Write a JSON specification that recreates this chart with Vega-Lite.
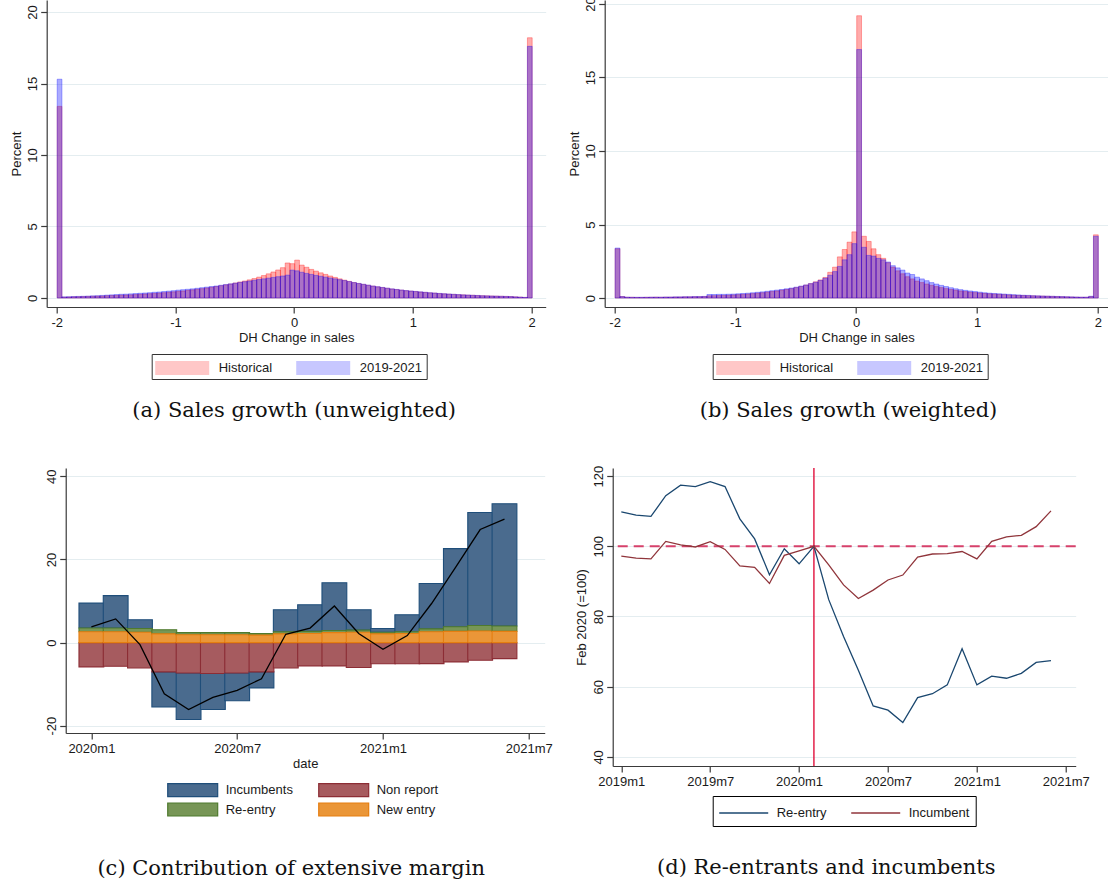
{
  "$schema": "https://vega.github.io/schema/vega-lite/v6.json",
  "background": "white",
  "padding": {"left": 10.5, "top": -4, "right": 0, "bottom": 0},
  "config": {
    "font": "Liberation Sans",
    "view": {"stroke": null},
    "axis": {
      "domainColor": "#3a3a3a", "tickColor": "#3a3a3a", "labelColor": "#1a1a1a", "titleColor": "#1a1a1a",
      "labelFont": "Liberation Sans", "titleFont": "Liberation Sans",
      "labelFontSize": 13, "titleFontSize": 13, "titleFontWeight": "normal",
      "gridColor": "#e4edf0", "tickSize": 6, "domainWidth": 1.2, "tickWidth": 1.2
    },
    "axisX": {"grid": false, "labelPadding": 3, "titlePadding": 2, "labelFlush": false},
    "axisY": {"labelAngle": -90, "labelAlign": "center", "labelBaseline": "alphabetic", "labelPadding": 4, "grid": true},
    "legend": {"labelFont": "Liberation Sans", "labelFontSize": 13, "labelColor": "#1a1a1a", "title": null},
    "title": {"font": "DejaVu Serif", "fontSize": 21, "fontWeight": "normal", "color": "#111111"},
    "bar": {"binSpacing": 0}
  },
  "datasets": {
    "hist_a": [
      {"lo": -2, "h": 13.4, "n": 15.3}, {"lo": -1.96, "h": 0.06, "n": 0.08}, {"lo": -1.92, "h": 0.07, "n": 0.09},
      {"lo": -1.88, "h": 0.08, "n": 0.1}, {"lo": -1.84, "h": 0.09, "n": 0.11}, {"lo": -1.8, "h": 0.1, "n": 0.12},
      {"lo": -1.76, "h": 0.11, "n": 0.13}, {"lo": -1.72, "h": 0.12, "n": 0.15}, {"lo": -1.68, "h": 0.13, "n": 0.16},
      {"lo": -1.64, "h": 0.14, "n": 0.18}, {"lo": -1.6, "h": 0.16, "n": 0.2}, {"lo": -1.56, "h": 0.17, "n": 0.22},
      {"lo": -1.52, "h": 0.18, "n": 0.24}, {"lo": -1.48, "h": 0.2, "n": 0.26}, {"lo": -1.44, "h": 0.21, "n": 0.27},
      {"lo": -1.4, "h": 0.22, "n": 0.29}, {"lo": -1.36, "h": 0.24, "n": 0.31}, {"lo": -1.32, "h": 0.26, "n": 0.33},
      {"lo": -1.28, "h": 0.28, "n": 0.35}, {"lo": -1.24, "h": 0.3, "n": 0.37}, {"lo": -1.2, "h": 0.32, "n": 0.4},
      {"lo": -1.16, "h": 0.34, "n": 0.42}, {"lo": -1.12, "h": 0.37, "n": 0.45}, {"lo": -1.08, "h": 0.4, "n": 0.48},
      {"lo": -1.04, "h": 0.43, "n": 0.51}, {"lo": -1, "h": 0.46, "n": 0.55}, {"lo": -0.96, "h": 0.49, "n": 0.58},
      {"lo": -0.92, "h": 0.53, "n": 0.61}, {"lo": -0.88, "h": 0.57, "n": 0.64}, {"lo": -0.84, "h": 0.61, "n": 0.68},
      {"lo": -0.8, "h": 0.65, "n": 0.72}, {"lo": -0.76, "h": 0.7, "n": 0.76}, {"lo": -0.72, "h": 0.75, "n": 0.8},
      {"lo": -0.68, "h": 0.8, "n": 0.84}, {"lo": -0.64, "h": 0.86, "n": 0.89}, {"lo": -0.6, "h": 0.92, "n": 0.94},
      {"lo": -0.56, "h": 0.98, "n": 0.99}, {"lo": -0.52, "h": 1.05, "n": 1.04}, {"lo": -0.48, "h": 1.12, "n": 1.09},
      {"lo": -0.44, "h": 1.19, "n": 1.14}, {"lo": -0.4, "h": 1.27, "n": 1.19}, {"lo": -0.36, "h": 1.36, "n": 1.24},
      {"lo": -0.32, "h": 1.46, "n": 1.29}, {"lo": -0.28, "h": 1.57, "n": 1.34}, {"lo": -0.24, "h": 1.69, "n": 1.39},
      {"lo": -0.2, "h": 1.82, "n": 1.44}, {"lo": -0.16, "h": 1.96, "n": 1.49}, {"lo": -0.12, "h": 2.12, "n": 1.54},
      {"lo": -0.08, "h": 2.45, "n": 1.6}, {"lo": -0.04, "h": 2.4, "n": 1.95},
      {"lo": 0, "h": 2.65, "n": 1.9}, {"lo": 0.04, "h": 2.3, "n": 1.8}, {"lo": 0.08, "h": 2.15, "n": 1.72},
      {"lo": 0.12, "h": 2.0, "n": 1.65}, {"lo": 0.16, "h": 1.88, "n": 1.58}, {"lo": 0.2, "h": 1.76, "n": 1.52},
      {"lo": 0.24, "h": 1.65, "n": 1.46}, {"lo": 0.28, "h": 1.54, "n": 1.4}, {"lo": 0.32, "h": 1.44, "n": 1.34},
      {"lo": 0.36, "h": 1.34, "n": 1.28}, {"lo": 0.4, "h": 1.25, "n": 1.22}, {"lo": 0.44, "h": 1.16, "n": 1.15},
      {"lo": 0.48, "h": 1.08, "n": 1.08}, {"lo": 0.52, "h": 1.01, "n": 1.02}, {"lo": 0.56, "h": 0.95, "n": 0.96},
      {"lo": 0.6, "h": 0.89, "n": 0.9}, {"lo": 0.64, "h": 0.83, "n": 0.84}, {"lo": 0.68, "h": 0.78, "n": 0.79},
      {"lo": 0.72, "h": 0.73, "n": 0.74}, {"lo": 0.76, "h": 0.68, "n": 0.69}, {"lo": 0.8, "h": 0.63, "n": 0.64},
      {"lo": 0.84, "h": 0.59, "n": 0.6}, {"lo": 0.88, "h": 0.55, "n": 0.56}, {"lo": 0.92, "h": 0.51, "n": 0.52},
      {"lo": 0.96, "h": 0.48, "n": 0.49}, {"lo": 1, "h": 0.45, "n": 0.46}, {"lo": 1.04, "h": 0.42, "n": 0.43},
      {"lo": 1.08, "h": 0.39, "n": 0.4}, {"lo": 1.12, "h": 0.36, "n": 0.37}, {"lo": 1.16, "h": 0.34, "n": 0.35},
      {"lo": 1.2, "h": 0.31, "n": 0.32}, {"lo": 1.24, "h": 0.29, "n": 0.3}, {"lo": 1.28, "h": 0.27, "n": 0.28},
      {"lo": 1.32, "h": 0.25, "n": 0.26}, {"lo": 1.36, "h": 0.23, "n": 0.24}, {"lo": 1.4, "h": 0.22, "n": 0.22},
      {"lo": 1.44, "h": 0.2, "n": 0.21}, {"lo": 1.48, "h": 0.19, "n": 0.19}, {"lo": 1.52, "h": 0.17, "n": 0.18},
      {"lo": 1.56, "h": 0.16, "n": 0.16}, {"lo": 1.6, "h": 0.15, "n": 0.15}, {"lo": 1.64, "h": 0.14, "n": 0.14},
      {"lo": 1.68, "h": 0.13, "n": 0.13}, {"lo": 1.72, "h": 0.12, "n": 0.12}, {"lo": 1.76, "h": 0.11, "n": 0.11},
      {"lo": 1.8, "h": 0.1, "n": 0.1}, {"lo": 1.84, "h": 0.08, "n": 0.08}, {"lo": 1.88, "h": 0.06, "n": 0.06},
      {"lo": 1.92, "h": 0.04, "n": 0.04}, {"lo": 1.96, "h": 18.2, "n": 17.6}
    ],
    "hist_b": [
      {"lo": -2, "h": 3.35, "n": 3.4}, {"lo": -1.96, "h": 0.1, "n": 0.1}, {"lo": -1.92, "h": 0.05, "n": 0.06},
      {"lo": -1.88, "h": 0.05, "n": 0.05}, {"lo": -1.84, "h": 0.04, "n": 0.05}, {"lo": -1.8, "h": 0.04, "n": 0.05},
      {"lo": -1.76, "h": 0.05, "n": 0.05}, {"lo": -1.72, "h": 0.05, "n": 0.06}, {"lo": -1.68, "h": 0.06, "n": 0.06},
      {"lo": -1.64, "h": 0.05, "n": 0.06}, {"lo": -1.6, "h": 0.06, "n": 0.07}, {"lo": -1.56, "h": 0.06, "n": 0.07},
      {"lo": -1.52, "h": 0.07, "n": 0.08}, {"lo": -1.48, "h": 0.07, "n": 0.08}, {"lo": -1.44, "h": 0.08, "n": 0.09},
      {"lo": -1.4, "h": 0.08, "n": 0.09}, {"lo": -1.36, "h": 0.09, "n": 0.1}, {"lo": -1.32, "h": 0.09, "n": 0.1},
      {"lo": -1.28, "h": 0.1, "n": 0.11}, {"lo": -1.24, "h": 0.15, "n": 0.24}, {"lo": -1.2, "h": 0.16, "n": 0.24},
      {"lo": -1.16, "h": 0.17, "n": 0.25}, {"lo": -1.12, "h": 0.18, "n": 0.25}, {"lo": -1.08, "h": 0.19, "n": 0.26},
      {"lo": -1.04, "h": 0.21, "n": 0.27}, {"lo": -1, "h": 0.23, "n": 0.29}, {"lo": -0.96, "h": 0.25, "n": 0.31},
      {"lo": -0.92, "h": 0.27, "n": 0.33}, {"lo": -0.88, "h": 0.3, "n": 0.36}, {"lo": -0.84, "h": 0.33, "n": 0.39},
      {"lo": -0.8, "h": 0.36, "n": 0.42}, {"lo": -0.76, "h": 0.4, "n": 0.46}, {"lo": -0.72, "h": 0.44, "n": 0.5},
      {"lo": -0.68, "h": 0.48, "n": 0.54}, {"lo": -0.64, "h": 0.53, "n": 0.58}, {"lo": -0.6, "h": 0.58, "n": 0.63},
      {"lo": -0.56, "h": 0.64, "n": 0.68}, {"lo": -0.52, "h": 0.71, "n": 0.74}, {"lo": -0.48, "h": 0.79, "n": 0.81},
      {"lo": -0.44, "h": 0.88, "n": 0.89}, {"lo": -0.4, "h": 0.98, "n": 0.98}, {"lo": -0.36, "h": 1.1, "n": 1.08},
      {"lo": -0.32, "h": 1.23, "n": 1.2}, {"lo": -0.28, "h": 1.4, "n": 1.35}, {"lo": -0.24, "h": 1.75, "n": 1.55},
      {"lo": -0.2, "h": 2.1, "n": 1.8}, {"lo": -0.16, "h": 2.8, "n": 2.15}, {"lo": -0.12, "h": 3.3, "n": 2.6},
      {"lo": -0.08, "h": 3.8, "n": 2.95}, {"lo": -0.04, "h": 4.5, "n": 3.7},
      {"lo": 0, "h": 19.2, "n": 16.9}, {"lo": 0.04, "h": 4.2, "n": 3.45}, {"lo": 0.08, "h": 3.85, "n": 2.9},
      {"lo": 0.12, "h": 3.35, "n": 2.85}, {"lo": 0.16, "h": 2.95, "n": 2.7}, {"lo": 0.2, "h": 2.7, "n": 2.6},
      {"lo": 0.24, "h": 2.4, "n": 2.45}, {"lo": 0.28, "h": 2.1, "n": 2.2}, {"lo": 0.32, "h": 1.85, "n": 2.05},
      {"lo": 0.36, "h": 1.65, "n": 1.9}, {"lo": 0.4, "h": 1.45, "n": 1.7}, {"lo": 0.44, "h": 1.3, "n": 1.6},
      {"lo": 0.48, "h": 1.15, "n": 1.42}, {"lo": 0.52, "h": 1.05, "n": 1.3}, {"lo": 0.56, "h": 0.95, "n": 1.18},
      {"lo": 0.6, "h": 0.86, "n": 1.05}, {"lo": 0.64, "h": 0.78, "n": 0.95}, {"lo": 0.68, "h": 0.71, "n": 0.86},
      {"lo": 0.72, "h": 0.64, "n": 0.78}, {"lo": 0.76, "h": 0.58, "n": 0.7}, {"lo": 0.8, "h": 0.53, "n": 0.63},
      {"lo": 0.84, "h": 0.48, "n": 0.57}, {"lo": 0.88, "h": 0.44, "n": 0.52}, {"lo": 0.92, "h": 0.4, "n": 0.48},
      {"lo": 0.96, "h": 0.37, "n": 0.44}, {"lo": 1, "h": 0.34, "n": 0.4}, {"lo": 1.04, "h": 0.31, "n": 0.36},
      {"lo": 1.08, "h": 0.29, "n": 0.33}, {"lo": 1.12, "h": 0.27, "n": 0.31}, {"lo": 1.16, "h": 0.25, "n": 0.29},
      {"lo": 1.2, "h": 0.23, "n": 0.27}, {"lo": 1.24, "h": 0.21, "n": 0.25}, {"lo": 1.28, "h": 0.19, "n": 0.23},
      {"lo": 1.32, "h": 0.18, "n": 0.21}, {"lo": 1.36, "h": 0.17, "n": 0.19}, {"lo": 1.4, "h": 0.16, "n": 0.18},
      {"lo": 1.44, "h": 0.15, "n": 0.16}, {"lo": 1.48, "h": 0.14, "n": 0.15}, {"lo": 1.52, "h": 0.13, "n": 0.14},
      {"lo": 1.56, "h": 0.12, "n": 0.13}, {"lo": 1.6, "h": 0.11, "n": 0.12}, {"lo": 1.64, "h": 0.1, "n": 0.11},
      {"lo": 1.68, "h": 0.09, "n": 0.1}, {"lo": 1.72, "h": 0.08, "n": 0.09}, {"lo": 1.76, "h": 0.07, "n": 0.08},
      {"lo": 1.8, "h": 0.06, "n": 0.07}, {"lo": 1.84, "h": 0.05, "n": 0.06}, {"lo": 1.88, "h": 0.05, "n": 0.06},
      {"lo": 1.92, "h": 0.1, "n": 0.12}, {"lo": 1.96, "h": 4.3, "n": 4.2}
    ],
    "parts": [
      {"m": 0, "comp": "Incumbents", "k": 4, "v": 6.0}, {"m": 0, "comp": "Re-entry", "k": 3, "v": 0.9}, {"m": 0, "comp": "Non report", "k": 2, "v": -5.85}, {"m": 0, "comp": "New entry", "k": 1, "v": 2.6},
      {"m": 1, "comp": "Incumbents", "k": 4, "v": 7.8}, {"m": 1, "comp": "Re-entry", "k": 3, "v": 0.9}, {"m": 1, "comp": "Non report", "k": 2, "v": -5.7}, {"m": 1, "comp": "New entry", "k": 1, "v": 2.6},
      {"m": 2, "comp": "Incumbents", "k": 4, "v": 2.1}, {"m": 2, "comp": "Re-entry", "k": 3, "v": 0.9}, {"m": 2, "comp": "Non report", "k": 2, "v": -6.1}, {"m": 2, "comp": "New entry", "k": 1, "v": 2.5},
      {"m": 3, "comp": "Incumbents", "k": 4, "v": -8.45}, {"m": 3, "comp": "Re-entry", "k": 3, "v": 1.0}, {"m": 3, "comp": "Non report", "k": 2, "v": -7.05}, {"m": 3, "comp": "New entry", "k": 1, "v": 2.1},
      {"m": 4, "comp": "Incumbents", "k": 4, "v": -11.2}, {"m": 4, "comp": "Re-entry", "k": 3, "v": 0.5}, {"m": 4, "comp": "Non report", "k": 2, "v": -7.3}, {"m": 4, "comp": "New entry", "k": 1, "v": 1.9},
      {"m": 5, "comp": "Incumbents", "k": 4, "v": -8.65}, {"m": 5, "comp": "Re-entry", "k": 3, "v": 0.5}, {"m": 5, "comp": "Non report", "k": 2, "v": -7.45}, {"m": 5, "comp": "New entry", "k": 1, "v": 1.9},
      {"m": 6, "comp": "Incumbents", "k": 4, "v": -6.7}, {"m": 6, "comp": "Re-entry", "k": 3, "v": 0.5}, {"m": 6, "comp": "Non report", "k": 2, "v": -7.3}, {"m": 6, "comp": "New entry", "k": 1, "v": 1.9},
      {"m": 7, "comp": "Incumbents", "k": 4, "v": -3.85}, {"m": 7, "comp": "Re-entry", "k": 3, "v": 0.4}, {"m": 7, "comp": "Non report", "k": 2, "v": -7.05}, {"m": 7, "comp": "New entry", "k": 1, "v": 1.8},
      {"m": 8, "comp": "Incumbents", "k": 4, "v": 5.3}, {"m": 8, "comp": "Re-entry", "k": 3, "v": 0.5}, {"m": 8, "comp": "Non report", "k": 2, "v": -6.1}, {"m": 8, "comp": "New entry", "k": 1, "v": 2.1},
      {"m": 9, "comp": "Incumbents", "k": 4, "v": 6.4}, {"m": 9, "comp": "Re-entry", "k": 3, "v": 0.5}, {"m": 9, "comp": "Non report", "k": 2, "v": -5.6}, {"m": 9, "comp": "New entry", "k": 1, "v": 2.2},
      {"m": 10, "comp": "Incumbents", "k": 4, "v": 11.5}, {"m": 10, "comp": "Re-entry", "k": 3, "v": 0.5}, {"m": 10, "comp": "Non report", "k": 2, "v": -5.6}, {"m": 10, "comp": "New entry", "k": 1, "v": 2.4},
      {"m": 11, "comp": "Incumbents", "k": 4, "v": 4.9}, {"m": 11, "comp": "Re-entry", "k": 3, "v": 0.5}, {"m": 11, "comp": "Non report", "k": 2, "v": -6.0}, {"m": 11, "comp": "New entry", "k": 1, "v": 2.5},
      {"m": 12, "comp": "Incumbents", "k": 4, "v": 0.9}, {"m": 12, "comp": "Re-entry", "k": 3, "v": 0.4}, {"m": 12, "comp": "Non report", "k": 2, "v": -5.1}, {"m": 12, "comp": "New entry", "k": 1, "v": 2.1},
      {"m": 13, "comp": "Incumbents", "k": 4, "v": 4.1}, {"m": 13, "comp": "Re-entry", "k": 3, "v": 0.4}, {"m": 13, "comp": "Non report", "k": 2, "v": -5.1}, {"m": 13, "comp": "New entry", "k": 1, "v": 2.2},
      {"m": 14, "comp": "Incumbents", "k": 4, "v": 10.9}, {"m": 14, "comp": "Re-entry", "k": 3, "v": 0.7}, {"m": 14, "comp": "Non report", "k": 2, "v": -5.05}, {"m": 14, "comp": "New entry", "k": 1, "v": 2.6},
      {"m": 15, "comp": "Incumbents", "k": 4, "v": 18.8}, {"m": 15, "comp": "Re-entry", "k": 3, "v": 1.1}, {"m": 15, "comp": "Non report", "k": 2, "v": -4.65}, {"m": 15, "comp": "New entry", "k": 1, "v": 2.7},
      {"m": 16, "comp": "Incumbents", "k": 4, "v": 27.2}, {"m": 16, "comp": "Re-entry", "k": 3, "v": 1.3}, {"m": 16, "comp": "Non report", "k": 2, "v": -4.25}, {"m": 16, "comp": "New entry", "k": 1, "v": 2.8},
      {"m": 17, "comp": "Incumbents", "k": 4, "v": 29.4}, {"m": 17, "comp": "Re-entry", "k": 3, "v": 1.3}, {"m": 17, "comp": "Non report", "k": 2, "v": -3.85}, {"m": 17, "comp": "New entry", "k": 1, "v": 2.7}
    ],
    "total": [
      {"m": 0, "v": 3.8}, {"m": 1, "v": 5.7}, {"m": 2, "v": -0.5}, {"m": 3, "v": -12.3}, {"m": 4, "v": -16.1}, {"m": 5, "v": -13.2},
      {"m": 6, "v": -11.5}, {"m": 7, "v": -8.7}, {"m": 8, "v": 2.0}, {"m": 9, "v": 3.5}, {"m": 10, "v": 8.8}, {"m": 11, "v": 2.2},
      {"m": 12, "v": -1.6}, {"m": 13, "v": 1.7}, {"m": 14, "v": 9.4}, {"m": 15, "v": 18.2}, {"m": 16, "v": 27.2}, {"m": 17, "v": 29.7}
    ],
    "index": [
      {"m": 0, "s": "Re-entry", "v": 109.8}, {"m": 1, "s": "Re-entry", "v": 108.9}, {"m": 2, "s": "Re-entry", "v": 108.5},
      {"m": 3, "s": "Re-entry", "v": 114.4}, {"m": 4, "s": "Re-entry", "v": 117.4}, {"m": 5, "s": "Re-entry", "v": 117.0},
      {"m": 6, "s": "Re-entry", "v": 118.4}, {"m": 7, "s": "Re-entry", "v": 117.0}, {"m": 8, "s": "Re-entry", "v": 107.8},
      {"m": 9, "s": "Re-entry", "v": 102.1}, {"m": 10, "s": "Re-entry", "v": 91.9}, {"m": 11, "s": "Re-entry", "v": 99.3},
      {"m": 12, "s": "Re-entry", "v": 95.0}, {"m": 13, "s": "Re-entry", "v": 100}, {"m": 14, "s": "Re-entry", "v": 84.8},
      {"m": 15, "s": "Re-entry", "v": 74.3}, {"m": 16, "s": "Re-entry", "v": 64.7}, {"m": 17, "s": "Re-entry", "v": 54.5},
      {"m": 18, "s": "Re-entry", "v": 53.3}, {"m": 19, "s": "Re-entry", "v": 49.8}, {"m": 20, "s": "Re-entry", "v": 56.9},
      {"m": 21, "s": "Re-entry", "v": 58.0}, {"m": 22, "s": "Re-entry", "v": 60.5}, {"m": 23, "s": "Re-entry", "v": 70.8},
      {"m": 24, "s": "Re-entry", "v": 60.5}, {"m": 25, "s": "Re-entry", "v": 63.0}, {"m": 26, "s": "Re-entry", "v": 62.4},
      {"m": 27, "s": "Re-entry", "v": 63.8}, {"m": 28, "s": "Re-entry", "v": 66.9}, {"m": 29, "s": "Re-entry", "v": 67.4},
      {"m": 0, "s": "Incumbent", "v": 97.2}, {"m": 1, "s": "Incumbent", "v": 96.6}, {"m": 2, "s": "Incumbent", "v": 96.4},
      {"m": 3, "s": "Incumbent", "v": 101.4}, {"m": 4, "s": "Incumbent", "v": 100.4}, {"m": 5, "s": "Incumbent", "v": 99.8},
      {"m": 6, "s": "Incumbent", "v": 101.3}, {"m": 7, "s": "Incumbent", "v": 99.1}, {"m": 8, "s": "Incumbent", "v": 94.4},
      {"m": 9, "s": "Incumbent", "v": 94.0}, {"m": 10, "s": "Incumbent", "v": 89.4}, {"m": 11, "s": "Incumbent", "v": 97.4},
      {"m": 12, "s": "Incumbent", "v": 98.7}, {"m": 13, "s": "Incumbent", "v": 100}, {"m": 14, "s": "Incumbent", "v": 94.7},
      {"m": 15, "s": "Incumbent", "v": 89.0}, {"m": 16, "s": "Incumbent", "v": 85.1}, {"m": 17, "s": "Incumbent", "v": 87.5},
      {"m": 18, "s": "Incumbent", "v": 90.4}, {"m": 19, "s": "Incumbent", "v": 91.8}, {"m": 20, "s": "Incumbent", "v": 96.9},
      {"m": 21, "s": "Incumbent", "v": 97.8}, {"m": 22, "s": "Incumbent", "v": 97.9}, {"m": 23, "s": "Incumbent", "v": 98.5},
      {"m": 24, "s": "Incumbent", "v": 96.4}, {"m": 25, "s": "Incumbent", "v": 101.4}, {"m": 26, "s": "Incumbent", "v": 102.7},
      {"m": 27, "s": "Incumbent", "v": 103.1}, {"m": 28, "s": "Incumbent", "v": 105.6}, {"m": 29, "s": "Incumbent", "v": 110.1}
    ],
    "refs": [{"base": 100, "shock": 13}]
  },
  "center": true,
  "spacing": 44,
  "resolve": {"scale": {"color": "independent", "stroke": "independent"}, "legend": {"color": "independent", "stroke": "independent"}},
  "vconcat": [
    {
      "spacing": 23,
      "resolve": {"scale": {"color": "independent"}, "legend": {"color": "independent"}},
      "hconcat": [
        {
          "width": 499, "height": 307,
          "data": {"name": "hist_a"},
          "title": {"text": "(a) Sales growth (unweighted)", "orient": "bottom", "frame": "group", "anchor": "middle", "offset": 20, "dx": -2},
          "encoding": {
            "x": {"field": "lo", "type": "quantitative", "bin": {"binned": true, "step": 0.04},
              "scale": {"domain": [-2.084, 2.118], "nice": false, "zero": false},
              "axis": {"values": [-2, -1, 0, 1, 2], "title": "DH Change in sales", "labelExpr": "'' + datum.value"}}
          },
          "layer": [
            {"mark": {"type": "bar", "fillOpacity": 0.33, "stroke": "#ff0000", "strokeOpacity": 0.45, "strokeWidth": 0.7},
             "encoding": {
               "y": {"field": "h", "type": "quantitative", "title": "Percent",
                 "scale": {"domain": [-0.63, 20.84], "nice": false, "zero": false},
                 "axis": {"values": [0, 5, 10, 15, 20], "minExtent": 22, "maxExtent": 22, "titlePadding": 1}},
               "color": {"datum": "Historical", "type": "nominal",
                 "scale": {"domain": ["Historical", "2019-2021"], "range": ["#ff0000", "#0000ff"]},
                 "legend": {"orient": "none", "legendX": 105, "legendY": 354, "direction": "horizontal",
                   "symbolType": "M-1.05,-0.7H4.35V0.7H-1.05Z", "symbolSize": 400, "symbolOpacity": 0.22, "symbolStrokeWidth": 0,
                   "labelOffset": 43, "columnPadding": 23, "padding": 4, "strokeColor": "#333333",
                   "labelExpr": "datum.label == '2019-2021' ? datum.label + '\u00a0\u00a0\u00a0\u00a0\u00a0\u00a0\u00a0' : datum.label"}}
             }},
            {"mark": {"type": "bar", "fillOpacity": 0.33, "stroke": "#0000ff", "strokeOpacity": 0.45, "strokeWidth": 0.7},
             "encoding": {
               "y": {"field": "n", "type": "quantitative", "title": "Percent"},
               "color": {"datum": "2019-2021", "type": "nominal"}
             }}
          ]
        },
        {
          "width": 503.6, "height": 307,
          "data": {"name": "hist_b"},
          "title": {"text": "(b) Sales growth (weighted)", "orient": "bottom", "frame": "group", "anchor": "middle", "offset": 20, "dx": -8},
          "encoding": {
            "x": {"field": "lo", "type": "quantitative", "bin": {"binned": true, "step": 0.04},
              "scale": {"domain": [-2.082, 2.087], "nice": false, "zero": false},
              "axis": {"values": [-2, -1, 0, 1, 2], "title": "DH Change in sales", "labelExpr": "'' + datum.value"}}
          },
          "layer": [
            {"mark": {"type": "bar", "fillOpacity": 0.33, "stroke": "#ff0000", "strokeOpacity": 0.45, "strokeWidth": 0.7},
             "encoding": {
               "y": {"field": "h", "type": "quantitative", "title": "Percent",
                 "scale": {"domain": [-0.61, 20.27], "nice": false, "zero": false},
                 "axis": {"values": [0, 5, 10, 15, 20], "minExtent": 22, "maxExtent": 22, "titlePadding": 1}},
               "color": {"datum": "Historical", "type": "nominal",
                 "scale": {"domain": ["Historical", "2019-2021"], "range": ["#ff0000", "#0000ff"]},
                 "legend": {"orient": "none", "legendX": 108, "legendY": 354, "direction": "horizontal",
                   "symbolType": "M-1.05,-0.7H4.35V0.7H-1.05Z", "symbolSize": 400, "symbolOpacity": 0.22, "symbolStrokeWidth": 0,
                   "labelOffset": 43, "columnPadding": 23, "padding": 4, "strokeColor": "#333333",
                   "labelExpr": "datum.label == '2019-2021' ? datum.label + '\u00a0\u00a0\u00a0\u00a0\u00a0\u00a0\u00a0' : datum.label"}}
             }},
            {"mark": {"type": "bar", "fillOpacity": 0.33, "stroke": "#0000ff", "strokeOpacity": 0.45, "strokeWidth": 0.7},
             "encoding": {
               "y": {"field": "n", "type": "quantitative", "title": "Percent"},
               "color": {"datum": "2019-2021", "type": "nominal"}
             }}
          ]
        }
      ]
    },
    {
      "spacing": 22,
      "resolve": {"scale": {"color": "independent", "stroke": "independent"}, "legend": {"color": "independent", "stroke": "independent"}},
      "hconcat": [
        {
          "width": 479, "height": 265,
          "title": {"text": "(c) Contribution of extensive margin", "orient": "bottom", "frame": "group", "anchor": "middle", "offset": 39, "dx": -14},
          "layer": [
            {"data": {"name": "parts"},
             "mark": {"type": "bar", "width": 24.8, "strokeWidth": 1.1},
             "encoding": {
               "x": {"field": "m", "type": "quantitative",
                 "scale": {"domain": [-0.85, 18.45], "nice": false, "zero": false},
                 "axis": {"values": [0, 6, 12, 18], "title": "date",
                   "labelExpr": "(2020 + floor(datum.value / 12)) + 'm' + (datum.value % 12 + 1)"}},
               "y": {"field": "v", "type": "quantitative", "stack": "zero", "title": null,
                 "scale": {"domain": [-21.75, 42], "nice": false, "zero": false},
                 "axis": {"values": [-20, 0, 20, 40], "minExtent": 30, "maxExtent": 30, "labelExpr": "'' + datum.value"}},
               "color": {"field": "comp", "type": "nominal",
                 "scale": {"domain": ["Incumbents", "Non report", "Re-entry", "New entry"], "range": ["#4a6b8e", "#a65b5f", "#779656", "#ea9638"]},
                 "legend": {"orient": "none", "legendX": 102, "legendY": 312, "columns": 2, "direction": "horizontal",
                   "symbolType": "M-1.11,-0.72H4.44V0.72H-1.11Z", "symbolSize": 324, "symbolStrokeWidth": 1.2,
                   "labelOffset": 38, "columnPadding": 22, "rowPadding": 0.5, "padding": 0}},
               "stroke": {"field": "comp", "type": "nominal",
                 "scale": {"domain": ["Incumbents", "Non report", "Re-entry", "New entry"], "range": ["#1f4e7a", "#8c2d35", "#4f7a2e", "#e57e10"]},
                 "legend": {"orient": "none", "legendX": 102, "legendY": 312, "columns": 2, "direction": "horizontal",
                   "symbolType": "M-1.11,-0.72H4.44V0.72H-1.11Z", "symbolSize": 324, "symbolStrokeWidth": 1.2,
                   "labelOffset": 38, "columnPadding": 22, "rowPadding": 0.5, "padding": 0}},
               "order": {"field": "k", "type": "quantitative"}
             }},
            {"data": {"name": "total"},
             "mark": {"type": "line", "color": "#000000", "strokeWidth": 1.3},
             "encoding": {
               "x": {"field": "m", "type": "quantitative"},
               "y": {"field": "v", "type": "quantitative"}
             }}
          ]
        },
        {
          "width": 463, "height": 298,
          "title": {"text": "(d) Re-entrants and incumbents", "orient": "bottom", "frame": "group", "anchor": "middle", "offset": 30, "dx": -18},
          "layer": [
            {"data": {"name": "refs"},
             "mark": {"type": "rule", "color": "#d6416b", "strokeWidth": 1.8, "strokeDash": [10, 6]},
             "encoding": {"y": {"field": "base", "type": "quantitative"}}},
            {"data": {"name": "refs"},
             "mark": {"type": "rule", "color": "#e0103c", "strokeWidth": 1.4},
             "encoding": {"x": {"field": "shock", "type": "quantitative"}}},
            {"data": {"name": "index"},
             "mark": {"type": "line", "strokeWidth": 1.3},
             "encoding": {
               "x": {"field": "m", "type": "quantitative",
                 "scale": {"domain": [-0.58, 30.67], "nice": false, "zero": false},
                 "axis": {"values": [0, 6, 12, 18, 24, 30], "title": null,
                   "labelExpr": "(2019 + floor(datum.value / 12)) + 'm' + (datum.value % 12 + 1)"}},
               "y": {"field": "v", "type": "quantitative", "title": "Feb 2020 (=100)",
                 "scale": {"domain": [37.4, 122.3], "nice": false, "zero": false},
                 "axis": {"values": [40, 60, 80, 100, 120], "minExtent": 23.4, "maxExtent": 23.4, "titlePadding": 1}},
               "color": {"field": "s", "type": "nominal",
                 "scale": {"domain": ["Re-entry", "Incumbent"], "range": ["#1a476f", "#90353b"]},
                 "legend": {"orient": "none", "legendX": 100, "legendY": 328, "direction": "horizontal",
                   "symbolType": "M-1.05,0H3.85", "symbolSize": 400, "symbolStrokeWidth": 1.5,
                   "labelOffset": 36, "columnPadding": 21, "padding": 6, "strokeColor": "#000000"}}
             }}
          ]
        }
      ]
    }
  ]
}
